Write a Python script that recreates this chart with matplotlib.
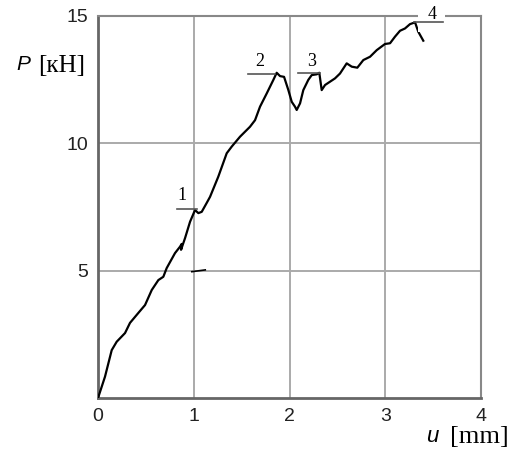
import matplotlib.pyplot as plt

# load-displacement curve
u_mm = [0.0, 0.073, 0.143, 0.195, 0.282, 0.334, 0.421, 0.491, 0.561, 0.63, 0.682,
        0.717, 0.804, 0.856, 0.874, 0.867, 0.909, 0.961, 1.013, 1.048, 1.083,
        1.135, 1.17, 1.256, 1.344, 1.396, 1.483, 1.587, 1.64, 1.692, 1.762,
        1.831, 1.866, 1.901, 1.943, 1.988, 2.023, 2.057, 2.075, 2.11, 2.144,
        2.196, 2.232, 2.284, 2.311, 2.336, 2.371, 2.423, 2.475, 2.527, 2.597,
        2.65, 2.708, 2.771, 2.841, 2.911, 2.997, 3.05, 3.102, 3.154, 3.206,
        3.258, 3.311, 3.345, 3.397]
p_kN = [0.0, 0.84, 1.88, 2.21, 2.55, 2.95, 3.34, 3.65, 4.24, 4.63, 4.76,
        5.10, 5.69, 5.94, 6.05, 5.82, 6.28, 6.92, 7.38, 7.26, 7.31,
        7.66, 7.90, 8.69, 9.61, 9.87, 10.26, 10.65, 10.91, 11.44, 11.96,
        12.49, 12.77, 12.64, 12.61, 12.09, 11.63, 11.44, 11.31, 11.57, 12.09,
        12.49, 12.68, 12.71, 12.77, 12.09, 12.29, 12.42, 12.55, 12.74, 13.14,
        13.01, 12.97, 13.27, 13.40, 13.66, 13.90, 13.93, 14.19, 14.42, 14.51,
        14.68, 14.75, 14.38, 14.03]

# marked points: label, text position, underline span
marks = ["1", "2", "3", "4"]
mark_x = [0.877, 1.692, 2.232, 3.485]
mark_y = [7.95, 13.2, 13.2, 15.05]
line_x0 = [0.82, 1.567, 2.092, 3.30]
line_x1 = [1.03, 1.853, 2.318, 3.60]
line_y = [7.41, 12.72, 12.77, 14.78]

xticks = [0, 1, 2, 3, 4]
yticks = [5, 10, 15]

fig = plt.figure(figsize=(5.29, 4.53), dpi=100)
ax = fig.add_axes([0.1853, 0.1214, 0.724, 0.8433])

ax.plot(u_mm, p_kN, color="black", lw=1.6, zorder=4)
# small stray dash near (1, 5)
ax.plot([0.98, 1.12], [4.96, 5.03], color="black", lw=1.2, zorder=4)

for lab, tx, ty, a, b, ly in zip(marks, mark_x, mark_y, line_x0, line_x1, line_y):
    ax.plot([a, b], [ly, ly], color="#555555", lw=1.2, zorder=6, clip_on=False)
    bbox = None
    if lab == "4":
        bbox = dict(facecolor="white", edgecolor="none", boxstyle="square,pad=0.5")
    ax.text(tx, ty, lab, family="Liberation Serif", fontsize=13, ha="center",
            va="center", zorder=5, clip_on=False, bbox=bbox)

ax.set_xlim(0, 4)
ax.set_ylim(0, 15)
ax.set_xticks(xticks)
ax.set_yticks(yticks)
ax.tick_params(length=0, labelsize=14, colors="#222222")
ax.tick_params(axis="x", pad=7)
ax.tick_params(axis="y", pad=7)
for lbl in ax.get_xticklabels() + ax.get_yticklabels():
    lbl.set_family("Liberation Sans")

ax.grid(True, color="#aaaaaa", lw=1.4)
for side in ["left", "bottom"]:
    ax.spines[side].set_color("#666666")
    ax.spines[side].set_linewidth(2.0)
for side in ["top", "right"]:
    ax.spines[side].set_color("#888888")
    ax.spines[side].set_linewidth(1.5)

# axis titles
fig.text(16 / 529, 1 - 64 / 453, "P", family="Liberation Sans", style="italic",
         fontsize=15, va="center", ha="left")
fig.text(38 / 529, 1 - 66 / 453, "[кН]", family="Liberation Serif",
         fontsize=18, va="center", ha="left")
fig.text(426 / 529, 1 - 436 / 453, "u", family="Liberation Sans", style="italic",
         fontsize=16, va="center", ha="left")
fig.text(450 / 529, 1 - 437 / 453, "[mm]", family="Liberation Serif",
         fontsize=19, va="center", ha="left")

fig.savefig("out.png", dpi=100)
